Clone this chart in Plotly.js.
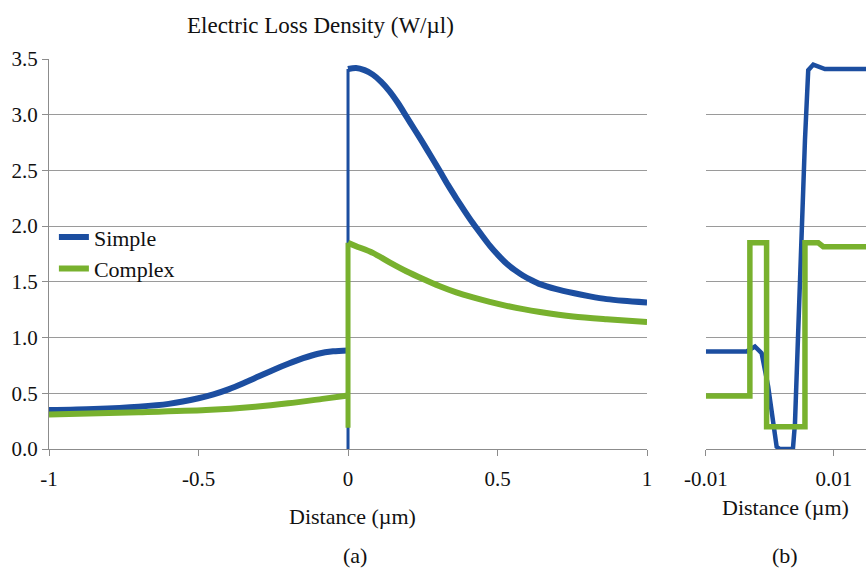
<!DOCTYPE html>
<html>
<head>
<meta charset="utf-8">
<script src="https://cdn.plot.ly/plotly-3.0.1.min.js"></script>
<style>html,body{margin:0;padding:0;background:#fff;}</style>
</head>
<body>
<div id="chart" style="width:868px;height:568px;"></div>
<script>
// Panel (a): full range
const simpleAX = [-1, -0.85, -0.7, -0.6, -0.5, -0.45, -0.4, -0.35, -0.3, -0.25, -0.2, -0.15, -0.1, -0.05, 0, 0, 0, 0.027, 0.055, 0.083, 0.111, 0.139, 0.167, 0.195, 0.223, 0.251, 0.279, 0.307, 0.334, 0.362, 0.39, 0.418, 0.447, 0.474, 0.502, 0.53, 0.558, 0.586, 0.614, 0.642, 0.697, 0.753, 0.809, 0.865, 0.921, 1];
const simpleAY = [0.35, 0.36, 0.38, 0.405, 0.455, 0.49, 0.535, 0.59, 0.65, 0.71, 0.765, 0.815, 0.855, 0.877, 0.885, 0, 3.41, 3.42, 3.40, 3.36, 3.295, 3.21, 3.105, 2.985, 2.865, 2.745, 2.62, 2.495, 2.37, 2.25, 2.135, 2.025, 1.92, 1.825, 1.74, 1.665, 1.605, 1.555, 1.515, 1.48, 1.435, 1.40, 1.37, 1.345, 1.33, 1.315];
const complexAX = [-1, -0.7, -0.475, -0.31, -0.2, -0.085, 0, 0, 0, 0.027, 0.083, 0.139, 0.195, 0.251, 0.307, 0.362, 0.418, 0.474, 0.53, 0.586, 0.642, 0.753, 0.865, 1];
const complexAY = [0.31, 0.33, 0.35, 0.38, 0.41, 0.45, 0.48, 0.19, 1.85, 1.82, 1.76, 1.675, 1.595, 1.525, 1.46, 1.405, 1.36, 1.32, 1.285, 1.255, 1.23, 1.19, 1.165, 1.14];

// Panel (b): zoom near the interface
const simpleBX = [-0.01, -0.0075, -0.005, -0.00364, -0.00234, -0.0013, -0.00027, 0.00052, 0.00105, 0.00156, 0.00359, 0.00391, 0.00442, 0.00495, 0.00547, 0.00598, 0.00677, 0.00859, 0.0125, 0.015];
const simpleBY = [0.875, 0.875, 0.875, 0.875, 0.92, 0.86, 0.56, 0.23, 0.02, 0, 0, 0.23, 1.07, 2.0, 2.77, 3.40, 3.45, 3.41, 3.41, 3.41];
const complexBX = [-0.01, -0.0075, -0.00313, -0.00313, -0.00052, -0.00052, 0.00547, 0.00547, 0.00755, 0.00833, 0.0125, 0.015];
const complexBY = [0.476, 0.476, 0.476, 1.85, 1.85, 0.2, 0.2, 1.85, 1.85, 1.815, 1.815, 1.815];

const xTicksA = [-1, -0.5, 0, 0.5, 1];
const xTickTextA = ["-1", "-0.5", "0", "0.5", "1"];
const xTicksB = [-0.01, 0.01];
const xTickTextB = ["-0.01", "0.01"];
const yTicks = [0, 0.5, 1, 1.5, 2, 2.5, 3, 3.5];
const seriesNames = ["Simple", "Complex"];

const blue = "#1c4ea0";
const green = "#78b12e";
const serif = "Liberation Serif, Times New Roman, serif";

// Split a series at the interface (repeated x = 0) into smooth left part, vertical jump, smooth right part
function splitSeries(xs, ys, name, color, width, jumpWidth) {
  const first = xs.indexOf(0);
  const last = xs.lastIndexOf(0);
  return [
    {x: xs.slice(0, first + 1), y: ys.slice(0, first + 1), name: name, legendgroup: name, showlegend: true, mode: "lines", line: {color: color, width: width, shape: "spline", smoothing: 0.8}, xaxis: "x", yaxis: "y"},
    {x: xs.slice(first, last + 1), y: ys.slice(first, last + 1), name: name, legendgroup: name, showlegend: false, mode: "lines", line: {color: color, width: jumpWidth}, xaxis: "x", yaxis: "y"},
    {x: xs.slice(last), y: ys.slice(last), name: name, legendgroup: name, showlegend: false, mode: "lines", line: {color: color, width: width, shape: "spline", smoothing: 0.8}, xaxis: "x", yaxis: "y"}
  ];
}

const traces = [].concat(
  splitSeries(simpleAX, simpleAY, seriesNames[0], blue, 6, 3),
  splitSeries(complexAX, complexAY, seriesNames[1], green, 6, 5),
  [
    {x: simpleBX, y: simpleBY, name: seriesNames[0], legendgroup: seriesNames[0], mode: "lines", line: {color: blue, width: 4.5}, xaxis: "x2", yaxis: "y2", showlegend: false},
    {x: complexBX, y: complexBY, name: seriesNames[1], legendgroup: seriesNames[1], mode: "lines", line: {color: green, width: 5.5}, xaxis: "x2", yaxis: "y2", showlegend: false}
  ]
);

const axisCommon = {
  showgrid: false, zeroline: false, showline: true, linecolor: "#8c8c8c", linewidth: 1,
  ticks: "outside", ticklen: 6, tickcolor: "#8c8c8c",
  tickfont: {family: serif, size: 21, color: "#111"}
};

const layout = {
  width: 868, height: 568,
  margin: {l: 49, r: 2, t: 59, b: 119},
  paper_bgcolor: "#fff", plot_bgcolor: "#fff",
  font: {family: serif, color: "#111"},
  xaxis: Object.assign({}, axisCommon, {domain: [0, 0.732], range: [-1, 1], tickmode: "array", tickvals: xTicksA, ticktext: xTickTextA, ticklabelstandoff: 5}),
  xaxis2: Object.assign({}, axisCommon, {domain: [0.804, 1], range: [-0.01, 0.015], tickmode: "array", tickvals: xTicksB, ticktext: xTickTextB, ticklabelstandoff: 5, anchor: "y2"}),
  yaxis: Object.assign({}, axisCommon, {range: [0, 3.5], tickmode: "array", tickvals: yTicks, tickformat: ".1f", showgrid: true, gridcolor: "#9a9a9a", gridwidth: 1, ticklabelstandoff: 0}),
  yaxis2: {anchor: "x2", range: [0, 3.5], tickmode: "array", tickvals: yTicks, showgrid: true, gridcolor: "#9a9a9a", gridwidth: 1, showline: false, showticklabels: false, ticks: "", zeroline: false},
  showlegend: true,
  legend: {x: 0.006, y: 0.597, xanchor: "left", yanchor: "top", bgcolor: "rgba(0,0,0,0)", font: {family: serif, size: 22, color: "#111"}, tracegroupgap: 0},
  annotations: [
    {text: "Electric Loss Density (W/µl)", xref: "paper", yref: "paper", x: 0.332, y: 1.087, xanchor: "center", yanchor: "middle", showarrow: false, font: {family: serif, size: 23, color: "#111"}},
    {text: "Distance (µm)", xref: "paper", yref: "paper", x: 0.371, y: -0.174, xanchor: "center", yanchor: "middle", showarrow: false, font: {family: serif, size: 22, color: "#111"}},
    {text: "Distance (µm)", xref: "paper", yref: "paper", x: 0.902, y: -0.151, xanchor: "center", yanchor: "middle", showarrow: false, font: {family: serif, size: 22, color: "#111"}},
    {text: "(a)", xref: "paper", yref: "paper", x: 0.374, y: -0.274, xanchor: "center", yanchor: "middle", showarrow: false, font: {family: serif, size: 22, color: "#111"}},
    {text: "(b)", xref: "paper", yref: "paper", x: 0.901, y: -0.272, xanchor: "center", yanchor: "middle", showarrow: false, font: {family: serif, size: 22, color: "#111"}}
  ]
};

Plotly.newPlot("chart", traces, layout, {displayModeBar: false, staticPlot: true});
</script>
</body>
</html>
